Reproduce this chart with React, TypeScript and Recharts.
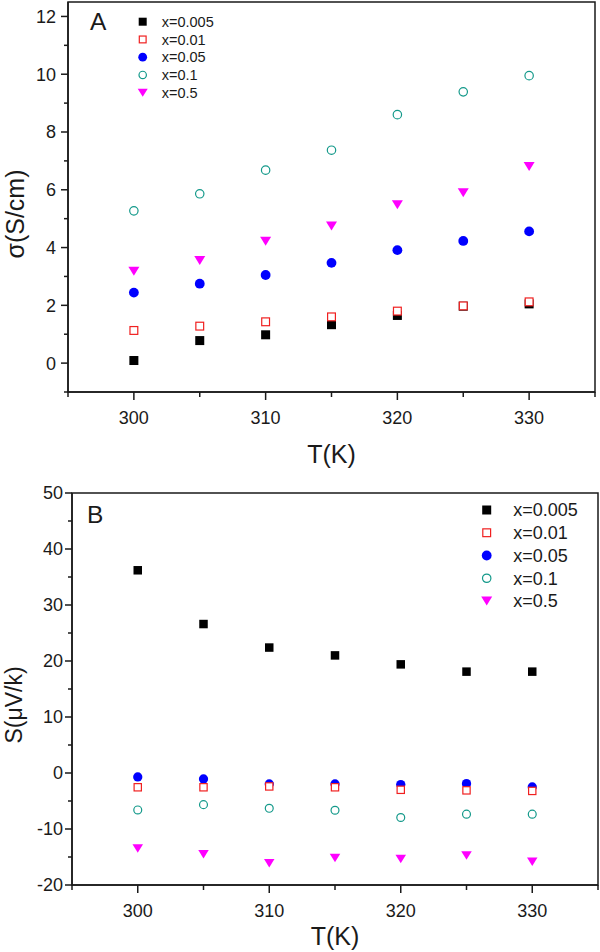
import React from "react";
import {
  ScatterChart,
  Scatter,
  XAxis,
  YAxis,
  ReferenceArea,
  Legend,
} from "recharts";

// temperatures (K)
const temps = [300, 305, 310, 315, 320, 325, 330];
const seriesNames = ["x=0.005", "x=0.01", "x=0.05", "x=0.1", "x=0.5"];

// panel A: conductivity sigma (S/cm)
const sigma005 = [0.09, 0.78, 0.98, 1.33, 1.65, 1.97, 2.05];
const sigma01 = [1.13, 1.28, 1.43, 1.6, 1.8, 1.98, 2.12];
const sigma05 = [2.44, 2.75, 3.05, 3.47, 3.91, 4.23, 4.56];
const sigma1 = [5.27, 5.86, 6.68, 7.37, 8.6, 9.39, 9.95];
const sigma5 = [3.18, 3.55, 4.22, 4.75, 5.48, 5.9, 6.81];

// panel B: Seebeck coefficient S (uV/K)
const seebeck005 = [36.2, 26.6, 22.4, 21.0, 19.4, 18.1, 18.1];
const seebeck01 = [-2.55, -2.55, -2.4, -2.55, -3.0, -3.1, -3.2];
const seebeck05 = [-0.7, -1.07, -1.95, -1.95, -2.07, -1.9, -2.5];
const seebeck1 = [-6.6, -5.65, -6.3, -6.65, -7.95, -7.35, -7.35];
const seebeck5 = [-13.5, -14.5, -16.1, -15.2, -15.35, -14.75, -15.85];

const xTicks = [295, 300, 305, 310, 315, 320, 325, 330, 335];
const xLabels = [300, 310, 320, 330];
const sigmaTicks = [-1, 0, 1, 2, 3, 4, 5, 6, 7, 8, 9, 10, 11, 12];
const sigmaLabels = [0, 2, 4, 6, 8, 10, 12];
const seebeckTicks = [-20, -15, -10, -5, 0, 5, 10, 15, 20, 25, 30, 35, 40, 45, 50];
const seebeckLabels = [-20, -10, 0, 10, 20, 30, 40, 50];

const FONT = '"Liberation Sans", Arial, Helvetica, sans-serif';
const INK = "#1a1a1a";

type Kind = "square" | "openSquare" | "dot" | "ring" | "tri";
const markerStyles: { kind: Kind; color: string }[] = [
  { kind: "square", color: "#000000" },
  { kind: "openSquare", color: "#f02020" },
  { kind: "dot", color: "#0000ff" },
  { kind: "ring", color: "#13998a" },
  { kind: "tri", color: "#ff00ff" },
];
// red open squares sit on top of the blue dots in the original
const drawOrder = [0, 2, 1, 3, 4];

const Marker = ({
  kind,
  color,
  cx,
  cy,
  s,
}: {
  kind: Kind;
  color: string;
  cx: number;
  cy: number;
  s: number;
}) => {
  if (kind === "square")
    return <rect x={cx - s / 2} y={cy - s / 2} width={s} height={s} fill={color} />;
  if (kind === "openSquare")
    return (
      <rect
        x={cx - s / 2 + 0.6}
        y={cy - s / 2 + 0.6}
        width={s - 1.2}
        height={s - 1.2}
        fill="#fff"
        stroke={color}
        strokeWidth={1.2}
      />
    );
  if (kind === "dot") return <circle cx={cx} cy={cy} r={s / 2 + 0.4} fill={color} />;
  if (kind === "ring")
    return <circle cx={cx} cy={cy} r={s / 2 - 0.3} fill="#fff" stroke={color} strokeWidth={1.2} />;
  const w = s + 2;
  const h = s;
  return (
    <polygon
      points={`${cx - w / 2},${cy - h / 2} ${cx + w / 2},${cy - h / 2} ${cx},${cy + h / 2}`}
      fill={color}
    />
  );
};

const XTick = (props: any) => {
  const { x, y, payload } = props;
  const major = xLabels.includes(payload.value);
  return (
    <g>
      <line x1={x} x2={x} y1={y} y2={y + (major ? 8 : 5)} stroke={INK} strokeWidth={1.5} />
      {major && (
        <text x={x} y={y + 31.5} textAnchor="middle" fontSize={18} fontFamily={FONT} fill={INK}>
          {payload.value}
        </text>
      )}
    </g>
  );
};

const makeYTick = (labels: number[], gap: number) => (props: any) => {
  const { x, y, payload } = props;
  const major = labels.includes(payload.value);
  return (
    <g>
      <line x1={x - (major ? 7 : 4)} x2={x} y1={y} y2={y} stroke={INK} strokeWidth={1.5} />
      {major && (
        <text
          x={x - gap}
          y={y}
          dy="0.36em"
          textAnchor="end"
          fontSize={18}
          fontFamily={FONT}
          fill={INK}
        >
          {payload.value}
        </text>
      )}
    </g>
  );
};

type PanelProps = {
  top: number;
  height: number;
  margin: { top: number; right: number; bottom: number; left: number };
  yWidth: number;
  xHeight: number;
  yDomain: [number, number];
  yTicks: number[];
  yLabels: number[];
  yGap: number;
  values: number[][];
  yTitle: string;
  yTitlePos: { x: number; y: number; size: number };
  xTitleDrop: number;
  panel: string;
  panelPos: { dx: number; dy: number };
  markerSize: number;
  legend: { left: number; top: number; mx: number; tx: number; y0: number; step: number; size: number; font: number };
};

const Panel = (p: PanelProps) => {
  const legendContent = () => (
    <svg width={150} height={p.legend.y0 + p.legend.step * 5} style={{ display: "block" }}>
      {seriesNames.map((name, i) => {
        const cy = p.legend.y0 + i * p.legend.step;
        return (
          <g key={name}>
            <Marker kind={markerStyles[i].kind} color={markerStyles[i].color} cx={p.legend.mx} cy={cy} s={p.legend.size} />
            <text x={p.legend.tx} y={cy} dy="0.36em" fontSize={p.legend.font} fontFamily={FONT} fill={INK}>
              {name}
            </text>
          </g>
        );
      })}
    </svg>
  );

  return (
    <div style={{ position: "absolute", left: 0, top: p.top }}>
      <ScatterChart width={600} height={p.height} margin={p.margin}>
        <XAxis
          dataKey="t"
          type="number"
          domain={[295, 335]}
          ticks={xTicks}
          interval={0}
          allowDataOverflow
          height={p.xHeight}
          tickSize={0}
          tickMargin={0}
          tickLine={false}
          axisLine={{ stroke: INK, strokeWidth: 1.5 }}
          tick={XTick}
          label={{
            content: ({ viewBox }: any) => (
              <text
                x={viewBox.x + viewBox.width / 2}
                y={viewBox.y + p.xTitleDrop}
                textAnchor="middle"
                fontSize={25}
                fontFamily={FONT}
                fill={INK}
              >
                T(K)
              </text>
            ),
          }}
        />
        <YAxis
          dataKey="v"
          type="number"
          domain={p.yDomain}
          ticks={p.yTicks}
          interval={0}
          allowDataOverflow
          width={p.yWidth}
          tickSize={0}
          tickMargin={0}
          tickLine={false}
          axisLine={{ stroke: INK, strokeWidth: 1.5 }}
          tick={makeYTick(p.yLabels, p.yGap)}
          label={{
            content: () => (
              <text
                x={p.yTitlePos.x}
                y={p.yTitlePos.y}
                textAnchor="middle"
                fontSize={p.yTitlePos.size}
                fontFamily={FONT}
                fill={INK}
                transform={`rotate(-90, ${p.yTitlePos.x}, ${p.yTitlePos.y})`}
              >
                {p.yTitle}
              </text>
            ),
          }}
        />
        <ReferenceArea
          x1={295}
          x2={335}
          y1={p.yDomain[0]}
          y2={p.yDomain[1]}
          fill="none"
          stroke={INK}
          strokeWidth={1.5}
          ifOverflow="visible"
          label={{
            content: ({ viewBox }: any) => (
              <text
                x={viewBox.x + p.panelPos.dx}
                y={viewBox.y + p.panelPos.dy}
                fontSize={24.5}
                fontFamily={FONT}
                fill={INK}
              >
                {p.panel}
              </text>
            ),
          }}
        />
        {drawOrder.map((i) => (
          <Scatter
            key={seriesNames[i]}
            name={seriesNames[i]}
            data={temps.map((t, k) => ({ t, v: p.values[i][k] }))}
            isAnimationActive={false}
            shape={(sp: any) => (
              <Marker
                kind={markerStyles[i].kind}
                color={markerStyles[i].color}
                cx={sp.cx}
                cy={sp.cy}
                s={p.markerSize}
              />
            )}
          />
        ))}
        <Legend
          layout="vertical"
          align="center"
          verticalAlign="middle"
          wrapperStyle={{ left: p.legend.left, top: p.legend.top, width: 150 }}
          content={legendContent}
        />
      </ScatterChart>
    </div>
  );
};

export default function App() {
  return (
    <div style={{ position: "absolute", left: 0, top: 0, width: 600, height: 952, background: "#fff" }}>
      <Panel
        top={0}
        height={476}
        margin={{ top: 2, right: 5, bottom: 0, left: 0 }}
        yWidth={68}
        xHeight={84}
        yDomain={[-1, 12.5]}
        yTicks={sigmaTicks}
        yLabels={sigmaLabels}
        yGap={12}
        values={[sigma005, sigma01, sigma05, sigma1, sigma5]}
        yTitle="σ(S/cm)"
        yTitlePos={{ x: 24, y: 214, size: 25 }}
        xTitleDrop={71}
        panel="A"
        panelPos={{ dx: 22, dy: 27.5 }}
        markerSize={9}
        legend={{ left: 133, top: 10, mx: 9.7, tx: 28.7, y0: 11.7, step: 17.75, size: 8, font: 14.5 }}
      />
      <Panel
        top={476}
        height={476}
        margin={{ top: 17, right: 2, bottom: 0, left: 0 }}
        yWidth={72}
        xHeight={67}
        yDomain={[-20, 50]}
        yTicks={seebeckTicks}
        yLabels={seebeckLabels}
        yGap={9}
        values={[seebeck005, seebeck01, seebeck05, seebeck1, seebeck5]}
        yTitle="S(μV/k)"
        yTitlePos={{ x: 22, y: 229, size: 23 }}
        xTitleDrop={60}
        panel="B"
        panelPos={{ dx: 15, dy: 29.5 }}
        markerSize={8.5}
        legend={{ left: 470, top: 20, mx: 16.7, tx: 43.3, y0: 14, step: 22.75, size: 9, font: 18 }}
      />
    </div>
  );
}
